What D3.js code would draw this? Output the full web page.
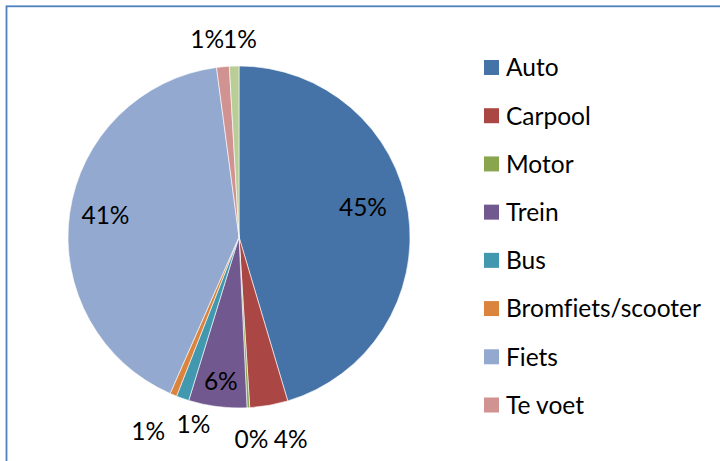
<!DOCTYPE html>
<html>
<head>
<meta charset="utf-8">
<script src="https://cdn.jsdelivr.net/npm/d3@7"></script>
<style>
  html, body { margin: 0; padding: 0; background: #fff; }
  svg { display: block; }
  text { font-family: Lato, "Open Sans", sans-serif; fill: #000; font-variant-ligatures: none; font-feature-settings: "liga" 0; }
</style>
</head>
<body>
<svg id="chart" width="720" height="461"></svg>
<script>
// ---- data ----
const categories = ["Auto", "Carpool", "Motor", "Trein", "Bus", "Bromfiets/scooter", "Fiets", "Te voet", "Overig"];
const values = [45.4, 3.6, 0.25, 5.5, 1.2, 0.65, 41.3, 1.2, 0.9];
const labels = ["45%", "4%", "0%", "6%", "1%", "1%", "41%", "1%", "1%"];
const legendCategories = ["Auto", "Carpool", "Motor", "Trein", "Bus", "Bromfiets/scooter", "Fiets", "Te voet"];
const colors = ["#4572A7", "#AA4643", "#89A54E", "#71588F", "#4198AF", "#DB843D", "#93A9CF", "#D19392", "#B9CD96"];

// ---- layout ----
const W = 720, H = 461;
const cx = 239, cy = 237, R = 171;
// label placement per slice: [radius factor, angle shift in degrees from slice middle]
const labelPlacement = [[0.746, -5.3], [1.219, -4.3], [1.184, -0.4], [0.849, 0], [1.129, -5.6], [1.256, 2.4], [0.791, 1.1], [1.172, -3.75], [1.158, 1.9]];
const fontSize = 24.5;

const svg = d3.select("#chart");

// chart border (only top & left visible)
svg.append("rect")
  .attr("x", 6.5).attr("y", 6.3)
  .attr("width", 800).attr("height", 600)
  .attr("fill", "none")
  .attr("stroke", "#4F81BD")
  .attr("stroke-width", 1.8);

const data = categories.map((c, i) => ({ name: c, value: values[i], label: labels[i], color: colors[i], idx: i }));

const pie = d3.pie().value(d => d.value).sort(null);
const arcs = pie(data);
const arc = d3.arc().innerRadius(0).outerRadius(R);

const g = svg.append("g").attr("transform", `translate(${cx},${cy})`);
g.selectAll("path.slice")
  .data(arcs)
  .enter().append("path")
  .attr("class", "slice")
  .attr("d", arc)
  .attr("fill", d => d.data.color)
  .attr("stroke", "#ffffff")
  .attr("stroke-width", 0.6);

g.selectAll("text.lbl")
  .data(arcs)
  .enter().append("text")
  .attr("class", "lbl")
  .attr("text-anchor", "middle")
  .attr("font-size", fontSize)
  .attr("x", d => {
    const p = labelPlacement[d.data.idx];
    const a = (d.startAngle + d.endAngle) / 2 + p[1] * Math.PI / 180;
    return Math.sin(a) * R * p[0];
  })
  .attr("y", d => {
    const p = labelPlacement[d.data.idx];
    const a = (d.startAngle + d.endAngle) / 2 + p[1] * Math.PI / 180;
    return -Math.cos(a) * R * p[0] + fontSize * 0.36;
  })
  .text(d => d.data.label);

// legend
const legendScale = d3.scalePoint().domain(legendCategories).range([67.5, 405]);
const lg = svg.append("g");
const items = lg.selectAll("g.item")
  .data(legendCategories)
  .enter().append("g")
  .attr("class", "item")
  .attr("transform", d => `translate(484,${legendScale(d)})`);
items.append("rect")
  .attr("x", 0).attr("y", -7.5)
  .attr("width", 15).attr("height", 15)
  .attr("fill", d => colors[categories.indexOf(d)]);
items.append("text")
  .attr("x", 22)
  .attr("y", fontSize * 0.36)
  .attr("font-size", fontSize)
  .text(d => d);
</script>
</body>
</html>
